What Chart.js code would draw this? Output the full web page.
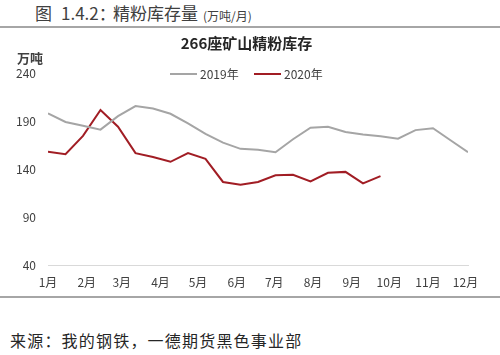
<!DOCTYPE html>
<html>
<head>
<meta charset="utf-8">
<script src="https://cdn.jsdelivr.net/npm/chart.js@4/dist/chart.umd.min.js"></script>
<style>
  html, body { margin: 0; padding: 0; background: #fff; }
  body { width: 500px; height: 355px; position: relative; overflow: hidden;
         font-family: "Noto Sans CJK SC", "Noto Sans", sans-serif; color: #404040; }
  #wrap { position: absolute; left: 0; top: 0; width: 500px; height: 297px; }
  .abs { position: absolute; white-space: nowrap; }
  #hdr { left: 0; top: 1px; width: 500px; height: 24px; font-size: 17px; line-height: 24px; color: #404040; }
  #hdr span { position: absolute; top: 0; }
  #hdr small { font-size: 12px; }
  .rule { position: absolute; left: 0; width: 500px; height: 2px; background: #a6a6a6; }
  #ctitle { left: 0; width: 493px; top: 33px; text-align: center; font-size: 15px; font-weight: bold; line-height: 20px; color: #262626; }
  #unit { left: 17px; top: 49px; font-size: 13px; font-weight: bold; line-height: 18px; color: #404040; }
  #legend { left: 170px; top: 66px; height: 16px; font-size: 12px; line-height: 16px; color: #404040; }
  .li { position: absolute; top: 0; }
  .li i { position: absolute; top: 7px; left: 0; width: 27px; height: 2px; }
  .li span { position: absolute; left: 30px; top: 0; }
  #src { left: 10px; top: 328px; font-size: 16px; line-height: 24px; letter-spacing: 1.2px; color: #262626; }
</style>
</head>
<body>
<div id="hdr" class="abs"><span style="left:35px">图</span><span style="left:61px">1.4.2：</span><span style="left:113px">精粉库存量</span><span style="left:203px;top:1px"><small>(万吨/月)</small></span></div>
<div class="rule" style="top:26px"></div>
<div id="wrap"><canvas id="c" width="500" height="297"></canvas></div>
<div id="ctitle" class="abs"></div>
<div id="unit" class="abs">万吨</div>
<div id="legend" class="abs"></div>
<div class="rule" style="top:296px"></div>
<div id="src" class="abs">来源：我的钢铁，一德期货黑色事业部</div>
<script>
// ---- data ----
const chartTitle = "266座矿山精粉库存";
const seriesNames = ["2019年", "2020年"];
const monthLabels = ["1月","2月","3月","4月","5月","6月","7月","8月","9月","10月","11月","12月"];
const monthStartDays = [0, 31, 59, 90, 120, 151, 181, 212, 243, 273, 304, 334];
const sampleIntervalDays = 14;
const values2019 = [198, 189, 185, 181, 195, 205.5, 203, 197.5, 187.5, 176.5, 167.5, 161,
                    160, 157.5, 171, 183, 184, 178.5, 176, 174, 171.5, 180.5, 182.5, 170, 157.5];
const values2020 = [158, 155.5, 174.5, 201.5, 184, 156.5, 152.5, 147.5, 156.5, 150.5, 126.5, 123.5,
                    126.5, 133.5, 134, 127, 136, 137, 125, 132.5];
const yTicks = [40, 90, 140, 190, 240];

const colors = ["#a5a5a5", "#a11d24"];
const toPoints = arr => arr.map((v, i) => ({ x: i * sampleIntervalDays, y: v }));

const datasets = [values2019, values2020].map((vals, k) => ({
  label: seriesNames[k],
  data: toPoints(vals),
  borderColor: colors[k],
  backgroundColor: colors[k],
  borderWidth: 2,
  pointRadius: 0,
  tension: 0
}));

document.getElementById('ctitle').textContent = chartTitle;

// HTML legend from datasets
const lg = document.getElementById('legend');
const offsets = [0, 84];
datasets.forEach((d, k) => {
  const it = document.createElement('div');
  it.className = 'li';
  it.style.left = offsets[k] + 'px';
  const ln = document.createElement('i');
  ln.style.background = d.borderColor;
  const tx = document.createElement('span');
  tx.textContent = d.label;
  it.appendChild(ln); it.appendChild(tx);
  lg.appendChild(it);
});

const tickFont = { family: '"Noto Sans CJK SC", "Noto Sans", sans-serif', size: 12 };

new Chart(document.getElementById('c'), {
  type: 'line',
  data: { datasets },
  options: {
    responsive: false,
    animation: false,
    layout: { padding: { left: 0, right: 32, top: 73, bottom: 0 } },
    plugins: {
      legend: { display: false },
      tooltip: { enabled: false },
      title: { display: false }
    },
    scales: {
      x: {
        type: 'linear',
        min: 0,
        max: (values2019.length - 1) * sampleIntervalDays,
        afterBuildTicks: (s) => { s.ticks = monthStartDays.map(v => ({ value: v })); },
        afterFit: (s) => { s.height = 32; },
        ticks: {
          autoSkip: false, maxRotation: 0, padding: 10,
          color: '#404040', font: tickFont,
          callback: (v) => monthLabels[monthStartDays.indexOf(v)]
        },
        grid: { display: false, drawTicks: false },
        border: { display: true, color: '#d9d9d9', width: 1 }
      },
      y: {
        min: 40, max: 240,
        afterBuildTicks: (s) => { s.ticks = yTicks.map(v => ({ value: v })); },
        afterFit: (s) => { s.width = 48; },
        ticks: { padding: 12, color: '#404040', font: tickFont },
        grid: { display: false, drawTicks: false },
        border: { display: false }
      }
    }
  }
});
</script>
</body>
</html>
